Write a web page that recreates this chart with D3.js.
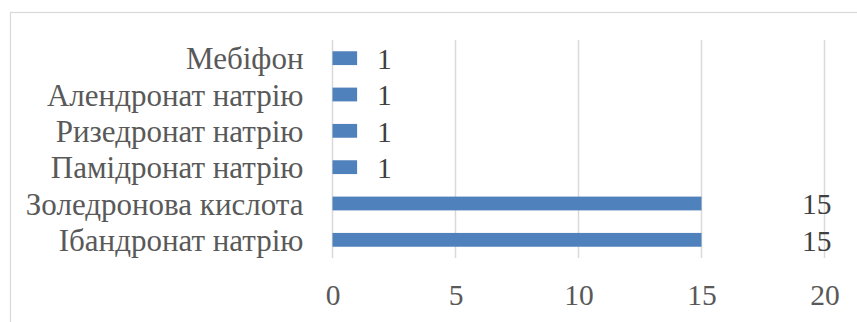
<!DOCTYPE html>
<html>
<head>
<meta charset="utf-8">
<script src="https://cdn.jsdelivr.net/npm/d3@7"></script>
<style>
  html, body { margin: 0; padding: 0; background: #fff; }
  svg { display: block; }
</style>
</head>
<body>
<svg id="chart" width="857" height="322"></svg>
<script>
// Drugs listed top to bottom, with the number of cases for each
const categories = [
  "Мебіфон",
  "Алендронат натрію",
  "Ризедронат натрію",
  "Памідронат натрію",
  "Золедронова кислота",
  "Ібандронат натрію"
];
const values = [1, 1, 1, 1, 15, 15];
const xTicks = [0, 5, 10, 15, 20];

const FONT = '"Liberation Serif", "Times New Roman", serif';

const svg = d3.select("#chart").style("font-family", FONT);
const W = 857, H = 322;
const margin = { top: 40, right: 32.5, bottom: 64, left: 332.5 };
const innerW = W - margin.left - margin.right;
const innerH = H - margin.top - margin.bottom;

// chart area frame
svg.append("rect")
  .attr("x", 10.5).attr("y", 12.5)
  .attr("width", 860).attr("height", 330)
  .attr("fill", "none")
  .attr("stroke", "#d9d9d9")
  .attr("stroke-width", 1.2);

const g = svg.append("g").attr("transform", `translate(${margin.left},${margin.top})`);

const x = d3.scaleLinear().domain([0, 20]).range([0, innerW]);
const y = d3.scaleBand().domain(categories).range([0, innerH]).paddingInner(0.62).paddingOuter(0.31);

// vertical gridlines
g.append("g")
  .selectAll("line")
  .data(xTicks)
  .join("line")
  .attr("x1", d => x(d)).attr("x2", d => x(d))
  .attr("y1", 0).attr("y2", innerH)
  .attr("stroke", "#d9d9d9")
  .attr("stroke-width", 1.5);

// x axis tick labels
const xAxis = g.append("g")
  .attr("transform", `translate(0,${innerH})`)
  .call(d3.axisBottom(x).tickValues(xTicks).tickSize(0).tickPadding(26).tickFormat(d3.format("d")));
xAxis.attr("font-family", null).attr("font-size", null);
xAxis.select(".domain").remove();
xAxis.selectAll("text")
  .style("font-family", FONT)
  .style("font-size", "29.5px")
  .attr("fill", "#595959");

// category labels
const yAxis = g.append("g")
  .call(d3.axisLeft(y).tickSize(0).tickPadding(29));
yAxis.attr("font-family", null).attr("font-size", null);
yAxis.select(".domain").remove();
yAxis.selectAll("text")
  .style("font-family", FONT)
  .style("font-size", "31px")
  .attr("dy", "0.36em")
  .attr("fill", "#595959");

// bars
g.append("g")
  .selectAll("rect")
  .data(values)
  .join("rect")
  .attr("x", x(0))
  .attr("y", (d, i) => y(categories[i]))
  .attr("width", d => x(d) - x(0))
  .attr("height", y.bandwidth())
  .attr("fill", "#4f81bd");

// value labels: short bars get the label beside the bar, long bars at the right edge
g.append("g")
  .selectAll("text")
  .data(values)
  .join("text")
  .attr("x", d => d >= 10 ? innerW + 7 : x(d) + 20)
  .attr("text-anchor", d => d >= 10 ? "end" : "start")
  .attr("y", (d, i) => y(categories[i]) + y.bandwidth() / 2)
  .attr("dy", "0.37em")
  .style("font-family", FONT)
  .style("font-size", "29.5px")
  .attr("fill", "#404040")
  .text(d => d);
</script>
</body>
</html>
